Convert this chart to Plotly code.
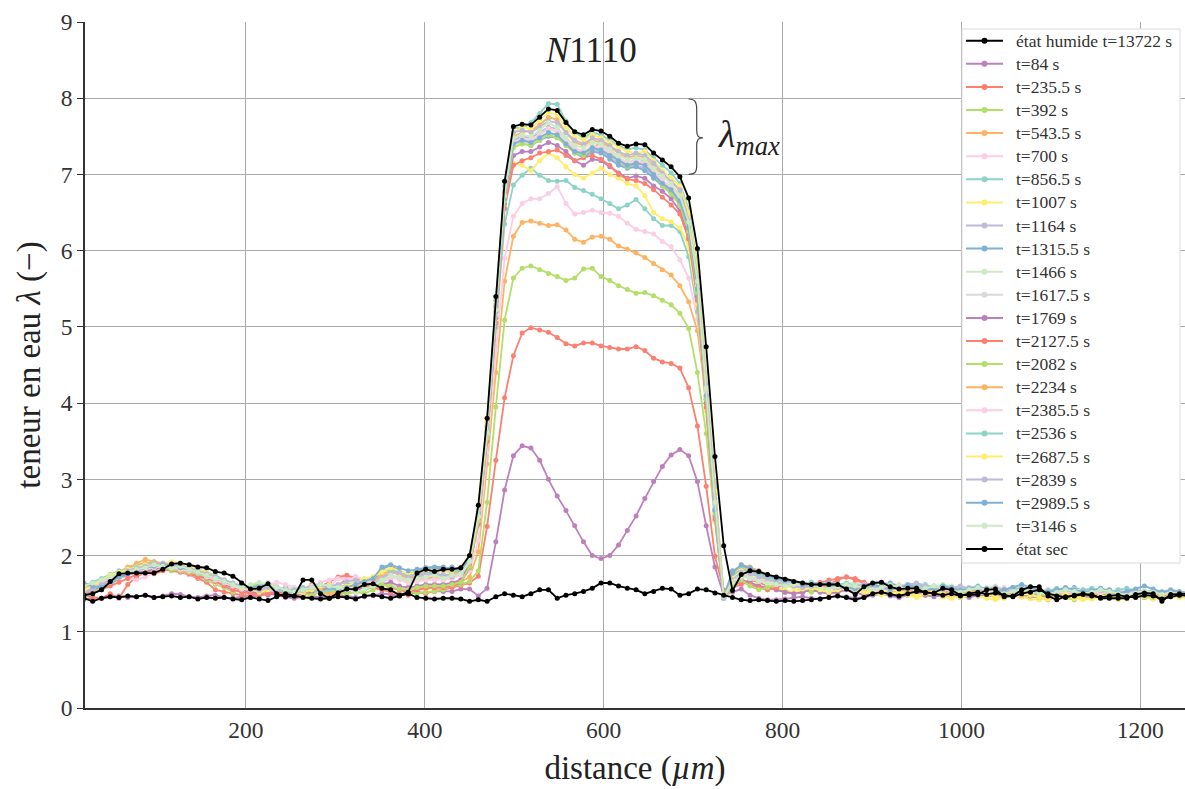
import plotly.graph_objects as go

# sampling grid (distance, µm)
x = [round(18.8 + 9.8 * i, 1) for i in range(127)]

# ---- état humide (black) ----
wet = ([1.48,1.50,1.55,1.66,1.76,1.77,1.77,1.77,1.77,1.82,1.89,1.90,1.88,1.85,1.84,1.79,1.77,1.73,1.64,1.56,
        1.57,1.63,1.50,1.46,1.47,1.68,1.68,1.50,1.44,1.51,1.56,1.56,1.62,1.63,1.57,1.55,1.48,1.52,1.77,1.82,1.79]
       + [1.82,1.82,1.84,2.00,2.66,3.80,5.40,6.91,7.63,7.66,7.65,7.75,7.86,7.84,7.68,7.56,7.52,7.59,7.57,7.50,
          7.41,7.37,7.40,7.39,7.28,7.19,7.10,6.97,6.69,6.03,4.74,3.30,2.13,1.54]
       + [1.75,1.80,1.79,1.75,1.72,1.69,1.66,1.64,1.62,1.62,1.62,1.62,1.56,1.49,1.59,1.64,1.65,1.59,1.56,1.57,
          1.57,1.51,1.51,1.57,1.55,1.48,1.48,1.49,1.55,1.56,1.46,1.47,1.55,1.59,1.59,1.47,1.42,1.46,1.47,1.49,
          1.49,1.44,1.44,1.44,1.44,1.49,1.51,1.50,1.40,1.49,1.50,1.50])

# ---- état sec (black) ----
dry = ([1.44,1.40,1.44,1.46,1.45,1.47,1.46,1.48,1.45,1.46,1.47,1.45,1.46,1.43,1.45,1.44,1.45,1.43,1.42,1.45,
        1.43,1.41,1.46,1.50,1.47,1.45,1.44,1.43,1.44,1.46,1.45,1.43,1.47,1.48,1.46,1.44,1.47,1.50,1.45,1.44,1.43]
       + [1.44,1.44,1.43,1.40,1.42,1.40,1.46,1.50,1.48,1.46,1.50,1.55,1.55,1.44,1.48,1.50,1.53,1.57,1.64,1.64,
          1.60,1.57,1.55,1.50,1.53,1.57,1.56,1.48,1.50,1.56,1.55,1.51,1.48,1.45]
       + [1.42,1.41,1.42,1.41,1.40,1.41,1.40,1.41,1.42,1.43,1.45,1.47,1.45,1.42,1.45,1.50,1.52,1.49,1.47,1.50,
          1.53,1.52,1.50,1.48,1.50,1.47,1.50,1.52,1.49,1.51,1.48,1.46,1.50,1.52,1.55,1.50,1.47,1.45,1.48,1.50,
          1.47,1.45,1.47,1.48,1.46,1.45,1.48,1.47,1.43,1.46,1.48,1.47])

t84 = ([1.42,1.45,1.44,1.46,1.47,1.45,1.46,1.48,1.45,1.47,1.50,1.49,1.46,1.45,1.47,1.48,1.45,1.44,1.46,1.45,
        1.47,1.50,1.48,1.45,1.44,1.46,1.47,1.45,1.46,1.48,1.47,1.45,1.46,1.48,1.50,1.49,1.47,1.50,1.52,1.51,1.53]
       + [1.53,1.53,1.56,1.56,1.47,1.57,2.18,2.86,3.31,3.44,3.41,3.25,3.00,2.78,2.59,2.39,2.18,2.00,1.96,2.00,
          2.14,2.33,2.52,2.75,2.97,3.17,3.32,3.39,3.31,2.97,2.39,1.85,1.48,1.52]
       + [1.56,1.48,1.44,1.42,1.42,1.43,1.45,1.46,1.44,1.43,1.45,1.47,1.46,1.44,1.45,1.48,1.50,1.47,1.45,1.48,
          1.50,1.52,1.48,1.46,1.50,1.53,1.50,1.47,1.49,1.52,1.50,1.47,1.46,1.49,1.52,1.50,1.48,1.46,1.50,1.52,
          1.49,1.47,1.45,1.48,1.50,1.47,1.45,1.48,1.50,1.47,1.46,1.48])

t235 = ([1.48,1.45,1.44,1.50,1.44,1.62,1.72,1.78,1.80,1.82,1.80,1.78,1.75,1.70,1.65,1.55,1.52,1.50,1.48,1.47,
         1.50,1.52,1.48,1.46,1.50,1.55,1.62,1.58,1.52,1.60,1.70,1.72,1.65,1.58,1.55,1.52,1.50,1.48,1.52,1.50,1.54]
        + [1.55,1.58,1.60,1.64,1.73,2.38,3.25,4.07,4.62,4.92,4.99,4.96,4.93,4.86,4.78,4.75,4.79,4.79,4.75,4.73,
           4.71,4.71,4.74,4.69,4.59,4.54,4.52,4.46,4.20,3.70,2.91,1.99,1.55,1.58]
        + [1.62,1.68,1.65,1.60,1.55,1.52,1.50,1.52,1.55,1.58,1.62,1.68,1.72,1.70,1.65,1.60,1.58,1.55,1.52,1.50,
           1.48,1.52,1.55,1.50,1.48,1.45,1.50,1.52,1.48,1.46,1.50,1.55,1.52,1.48,1.45,1.48,1.50,1.52,1.50,1.47,
           1.45,1.48,1.50,1.47,1.45,1.48,1.50,1.46,1.44,1.47,1.49,1.47])

t392 = ([1.50,1.55,1.60,1.68,1.75,1.78,1.80,1.82,1.85,1.83,1.80,1.82,1.78,1.72,1.68,1.62,1.58,1.52,1.55,1.60,
         1.62,1.58,1.55,1.52,1.48,1.50,1.55,1.52,1.48,1.50,1.55,1.52,1.50,1.55,1.62,1.58,1.55,1.52,1.50,1.52,1.53]
        + [1.55,1.60,1.62,1.66,1.80,2.70,3.95,5.09,5.64,5.77,5.80,5.75,5.70,5.66,5.61,5.64,5.76,5.77,5.66,5.61,
           5.54,5.49,5.44,5.45,5.41,5.35,5.29,5.18,4.98,4.40,3.60,2.45,1.46,1.55]
        + [1.70,1.62,1.58,1.55,1.60,1.62,1.58,1.55,1.52,1.55,1.58,1.60,1.62,1.58,1.55,1.52,1.50,1.55,1.58,1.52,
           1.50,1.48,1.52,1.55,1.50,1.46,1.48,1.52,1.50,1.45,1.48,1.50,1.46,1.44,1.48,1.50,1.47,1.45,1.42,1.46,
           1.48,1.50,1.47,1.44,1.46,1.48,1.45,1.43,1.46,1.48,1.46,1.45])

t543 = ([1.55,1.52,1.58,1.70,1.78,1.82,1.90,1.95,1.92,1.88,1.85,1.88,1.85,1.80,1.75,1.70,1.62,1.58,1.55,1.52,
         1.50,1.55,1.58,1.52,1.48,1.50,1.52,1.55,1.50,1.48,1.52,1.55,1.58,1.62,1.65,1.60,1.55,1.58,1.55,1.56,1.58]
        + [1.58,1.62,1.65,1.72,2.05,3.20,4.40,5.60,6.19,6.37,6.39,6.36,6.33,6.34,6.27,6.15,6.11,6.18,6.19,6.15,
           6.06,6.02,5.97,5.91,5.83,5.75,5.68,5.54,5.33,4.95,4.05,2.95,1.47,1.62]
        + [1.85,1.82,1.78,1.72,1.68,1.65,1.62,1.60,1.58,1.62,1.65,1.62,1.58,1.55,1.60,1.62,1.58,1.55,1.50,1.52,
           1.55,1.58,1.52,1.48,1.45,1.50,1.52,1.55,1.50,1.48,1.46,1.50,1.52,1.48,1.45,1.42,1.46,1.50,1.48,1.45,
           1.47,1.50,1.48,1.45,1.47,1.50,1.52,1.48,1.46,1.49,1.51,1.48])

t700 = ([1.52,1.58,1.65,1.72,1.75,1.70,1.68,1.72,1.78,1.82,1.85,1.80,1.75,1.72,1.70,1.65,1.60,1.55,1.52,1.50,
         1.55,1.60,1.58,1.52,1.50,1.55,1.60,1.62,1.58,1.70,1.72,1.68,1.62,1.60,1.65,1.62,1.58,1.55,1.58,1.60,1.62]
        + [1.62,1.65,1.68,1.80,2.20,3.35,4.70,5.90,6.45,6.62,6.68,6.68,6.75,6.84,6.62,6.48,6.50,6.53,6.50,6.49,
           6.45,6.36,6.28,6.25,6.22,6.12,6.05,5.88,5.64,5.10,4.10,2.85,1.47,1.62]
        + [1.75,1.72,1.68,1.65,1.62,1.60,1.58,1.62,1.65,1.60,1.58,1.55,1.60,1.62,1.58,1.55,1.52,1.55,1.58,1.62,
           1.58,1.55,1.52,1.50,1.54,1.58,1.55,1.52,1.50,1.55,1.58,1.55,1.52,1.50,1.48,1.52,1.55,1.58,1.54,1.50,
           1.48,1.52,1.55,1.50,1.48,1.52,1.50,1.47,1.50,1.52,1.50,1.48])

t856 = ([1.55,1.62,1.65,1.72,1.78,1.80,1.85,1.88,1.86,1.90,1.88,1.85,1.84,1.80,1.76,1.72,1.65,1.60,1.58,1.55,
         1.52,1.55,1.50,1.48,1.52,1.55,1.58,1.55,1.52,1.55,1.60,1.62,1.65,1.68,1.75,1.72,1.70,1.68,1.70,1.72,1.70]
        + [1.70,1.72,1.75,1.88,2.40,3.50,5.00,6.35,6.86,6.99,7.08,6.99,6.92,6.91,6.92,6.83,6.79,6.74,6.68,6.62,
           6.55,6.60,6.67,6.55,6.42,6.33,6.33,6.25,5.92,5.20,4.00,2.70,1.46,1.68]
        + [1.80,1.78,1.75,1.72,1.70,1.66,1.62,1.64,1.60,1.58,1.60,1.62,1.58,1.55,1.58,1.62,1.65,1.60,1.56,1.55,
           1.58,1.62,1.58,1.55,1.52,1.55,1.58,1.56,1.52,1.50,1.54,1.58,1.55,1.52,1.50,1.53,1.56,1.52,1.50,1.48,
           1.52,1.55,1.52,1.48,1.50,1.53,1.50,1.48,1.50,1.52,1.50,1.48])

t1007 = ([1.48,1.55,1.62,1.70,1.75,1.78,1.82,1.85,1.80,1.84,1.86,1.85,1.82,1.78,1.74,1.70,1.62,1.58,1.55,1.52,
          1.48,1.52,1.55,1.50,1.48,1.45,1.50,1.55,1.52,1.58,1.62,1.60,1.58,1.65,1.78,1.82,1.75,1.72,1.75,1.78,1.80]
         + [1.80,1.78,1.82,1.96,2.55,3.60,5.10,6.58,7.15,7.12,7.05,7.18,7.28,7.22,7.10,7.00,6.95,7.02,7.08,7.00,
            6.95,6.88,6.85,6.72,6.50,6.42,6.38,6.30,6.05,5.30,3.90,2.45,1.46,1.75]
         + [1.78,1.72,1.68,1.62,1.58,1.55,1.52,1.55,1.58,1.55,1.52,1.50,1.55,1.58,1.55,1.52,1.48,1.50,1.52,1.48,
            1.45,1.48,1.50,1.46,1.44,1.48,1.50,1.47,1.44,1.42,1.45,1.48,1.46,1.43,1.42,1.45,1.48,1.46,1.44,1.42,
            1.45,1.47,1.44,1.42,1.45,1.48,1.46,1.43,1.45,1.47,1.45,1.44])

t1164 = ([1.52,1.58,1.62,1.68,1.72,1.78,1.80,1.84,1.88,1.86,1.84,1.86,1.82,1.80,1.75,1.70,1.66,1.62,1.58,1.55,
          1.58,1.60,1.55,1.52,1.50,1.55,1.58,1.60,1.55,1.58,1.60,1.62,1.60,1.66,1.72,1.78,1.76,1.70,1.72,1.74,1.75]
         + [1.74,1.76,1.78,1.94,2.55,3.64,5.25,6.75,7.45,7.50,7.48,7.55,7.62,7.60,7.45,7.32,7.25,7.32,7.30,7.22,
            7.15,7.10,7.12,7.08,6.98,6.88,6.78,6.62,6.28,5.48,4.08,2.60,1.45,1.74]
         + [1.82,1.78,1.74,1.70,1.65,1.62,1.60,1.58,1.62,1.60,1.58,1.55,1.58,1.62,1.60,1.56,1.55,1.58,1.60,1.62,
            1.58,1.55,1.58,1.60,1.56,1.52,1.55,1.58,1.55,1.52,1.55,1.58,1.55,1.52,1.50,1.53,1.55,1.52,1.50,1.52,
            1.54,1.52,1.50,1.48,1.52,1.55,1.52,1.50,1.48,1.50,1.52,1.50])

t1315 = ([1.62,1.58,1.55,1.62,1.70,1.75,1.78,1.80,1.84,1.85,1.82,1.84,1.86,1.80,1.76,1.72,1.65,1.60,1.62,1.58,
          1.55,1.52,1.55,1.58,1.55,1.52,1.50,1.55,1.58,1.55,1.52,1.55,1.60,1.65,1.82,1.87,1.80,1.75,1.80,1.84,1.85]
         + [1.85,1.82,1.84,1.96,2.55,3.62,5.20,6.68,7.40,7.42,7.38,7.45,7.50,7.48,7.40,7.28,7.22,7.30,7.28,7.20,
            7.12,7.08,7.10,7.05,6.95,6.85,6.75,6.60,6.25,5.45,4.05,2.58,1.45,1.80]
         + [1.86,1.84,1.80,1.75,1.70,1.66,1.64,1.62,1.60,1.58,1.60,1.62,1.60,1.58,1.55,1.58,1.62,1.64,1.60,1.56,
            1.55,1.58,1.60,1.58,1.55,1.52,1.55,1.58,1.55,1.52,1.50,1.55,1.58,1.55,1.52,1.50,1.52,1.55,1.58,1.54,
            1.50,1.52,1.55,1.52,1.48,1.50,1.52,1.54,1.50,1.48,1.50,1.52])

t1466 = ([1.58,1.62,1.68,1.72,1.70,1.76,1.80,1.82,1.86,1.88,1.85,1.82,1.80,1.78,1.74,1.70,1.65,1.62,1.60,1.58,
          1.62,1.65,1.60,1.55,1.52,1.50,1.55,1.58,1.62,1.60,1.55,1.58,1.62,1.60,1.68,1.72,1.70,1.65,1.68,1.70,1.72]
         + [1.72,1.70,1.76,1.92,2.52,3.60,5.22,6.72,7.40,7.45,7.44,7.52,7.60,7.55,7.45,7.35,7.30,7.38,7.36,7.30,
            7.22,7.16,7.20,7.18,7.05,6.92,6.82,6.68,6.30,5.52,4.12,2.64,1.46,1.72]
         + [1.76,1.72,1.70,1.68,1.66,1.62,1.60,1.62,1.64,1.62,1.60,1.58,1.62,1.65,1.62,1.58,1.55,1.58,1.62,1.60,
            1.58,1.55,1.58,1.62,1.60,1.56,1.52,1.55,1.58,1.60,1.56,1.52,1.55,1.58,1.55,1.52,1.50,1.53,1.56,1.54,
            1.52,1.55,1.52,1.50,1.52,1.55,1.53,1.50,1.52,1.54,1.52,1.50])

t1617 = ([1.55,1.60,1.65,1.70,1.76,1.80,1.82,1.85,1.84,1.82,1.86,1.84,1.80,1.76,1.72,1.68,1.62,1.58,1.56,1.55,
          1.58,1.55,1.52,1.55,1.58,1.52,1.50,1.55,1.60,1.62,1.65,1.68,1.62,1.58,1.65,1.70,1.72,1.68,1.66,1.70,1.70]
         + [1.70,1.72,1.75,1.90,2.50,3.58,5.20,6.70,7.38,7.42,7.40,7.48,7.55,7.50,7.42,7.32,7.28,7.36,7.34,7.28,
            7.20,7.14,7.16,7.14,7.02,6.90,6.80,6.65,6.28,5.50,4.10,2.62,1.45,1.70]
         + [1.74,1.72,1.68,1.66,1.64,1.62,1.60,1.58,1.60,1.62,1.60,1.58,1.60,1.62,1.58,1.55,1.58,1.60,1.56,1.55,
            1.58,1.60,1.56,1.52,1.55,1.58,1.55,1.52,1.54,1.56,1.52,1.50,1.53,1.55,1.52,1.50,1.52,1.55,1.52,1.50,
            1.52,1.54,1.50,1.48,1.50,1.52,1.50,1.48,1.51,1.53,1.50,1.49])

t1769 = ([1.50,1.55,1.62,1.68,1.72,1.75,1.78,1.80,1.82,1.85,1.84,1.82,1.78,1.75,1.72,1.68,1.62,1.58,1.55,1.52,
          1.50,1.48,1.52,1.55,1.50,1.48,1.52,1.55,1.58,1.55,1.52,1.55,1.58,1.60,1.62,1.65,1.60,1.58,1.60,1.62,1.62]
         + [1.62,1.64,1.68,1.88,2.48,3.55,5.12,6.62,7.25,7.30,7.30,7.36,7.42,7.38,7.30,7.18,7.12,7.20,7.18,7.10,
            7.02,6.95,6.98,6.95,6.85,6.78,6.68,6.52,6.18,5.40,4.00,2.52,1.44,1.64]
         + [1.68,1.65,1.60,1.58,1.55,1.52,1.50,1.52,1.55,1.52,1.50,1.52,1.55,1.52,1.48,1.50,1.52,1.48,1.46,1.50,
            1.52,1.48,1.46,1.50,1.52,1.48,1.45,1.48,1.50,1.47,1.45,1.48,1.50,1.47,1.45,1.44,1.47,1.50,1.48,1.45,
            1.47,1.50,1.48,1.46,1.44,1.47,1.49,1.46,1.45,1.48,1.47,1.46])

t2127 = ([1.52,1.50,1.55,1.60,1.65,1.70,1.75,1.78,1.76,1.80,1.82,1.80,1.76,1.72,1.70,1.66,1.60,1.55,1.52,1.50,
          1.48,1.50,1.52,1.50,1.46,1.48,1.55,1.60,1.65,1.72,1.74,1.70,1.62,1.58,1.55,1.58,1.55,1.52,1.55,1.58,1.58]
         + [1.58,1.60,1.64,1.84,2.42,3.50,5.05,6.55,7.12,7.18,7.22,7.28,7.30,7.32,7.25,7.18,7.22,7.25,7.20,7.12,
            7.00,6.94,6.92,6.88,6.80,6.70,6.60,6.48,6.15,5.35,3.95,2.48,1.45,1.60]
         + [1.65,1.62,1.58,1.55,1.58,1.62,1.60,1.58,1.62,1.65,1.68,1.70,1.72,1.68,1.64,1.60,1.58,1.55,1.58,1.55,
            1.52,1.55,1.58,1.55,1.52,1.50,1.52,1.55,1.52,1.48,1.50,1.52,1.55,1.52,1.48,1.46,1.50,1.52,1.50,1.47,
            1.48,1.50,1.52,1.49,1.46,1.48,1.51,1.49,1.47,1.50,1.48,1.47])

t2082 = ([1.45,1.50,1.58,1.65,1.72,1.78,1.82,1.84,1.86,1.84,1.82,1.80,1.78,1.76,1.72,1.68,1.64,1.60,1.56,1.60,
          1.62,1.58,1.55,1.52,1.55,1.50,1.48,1.52,1.55,1.52,1.50,1.52,1.55,1.58,1.62,1.60,1.56,1.55,1.58,1.60,1.60]
         + [1.60,1.62,1.65,1.85,2.45,3.55,5.15,6.65,7.35,7.40,7.38,7.45,7.52,7.48,7.38,7.28,7.25,7.35,7.42,7.30,
            7.20,7.10,7.15,7.18,7.02,6.85,6.75,6.60,6.25,5.45,4.05,2.55,1.44,1.62]
         + [1.68,1.60,1.55,1.58,1.62,1.65,1.62,1.58,1.55,1.58,1.60,1.62,1.58,1.55,1.58,1.60,1.57,1.54,1.56,1.58,
            1.55,1.52,1.55,1.58,1.54,1.50,1.52,1.55,1.52,1.49,1.50,1.53,1.55,1.52,1.49,1.47,1.50,1.52,1.50,1.47,
            1.49,1.51,1.48,1.46,1.48,1.50,1.47,1.45,1.48,1.50,1.48,1.47])

t2234 = ([1.58,1.62,1.66,1.72,1.78,1.85,1.88,1.90,1.92,1.90,1.88,1.90,1.86,1.82,1.78,1.74,1.68,1.62,1.58,1.55,
          1.52,1.55,1.58,1.55,1.52,1.55,1.58,1.55,1.50,1.52,1.55,1.58,1.62,1.66,1.75,1.80,1.74,1.70,1.72,1.70,1.72]
         + [1.72,1.75,1.80,1.95,2.55,3.65,5.25,6.75,7.50,7.55,7.58,7.65,7.75,7.72,7.55,7.42,7.38,7.45,7.42,7.36,
            7.28,7.22,7.25,7.22,7.10,7.00,6.92,6.78,6.45,5.70,4.30,2.80,1.45,1.75]
         + [1.88,1.85,1.80,1.74,1.70,1.66,1.63,1.60,1.62,1.60,1.58,1.60,1.62,1.58,1.55,1.58,1.60,1.56,1.53,1.55,
            1.57,1.55,1.52,1.50,1.53,1.56,1.54,1.51,1.49,1.52,1.54,1.51,1.48,1.50,1.53,1.50,1.47,1.49,1.52,1.50,
            1.48,1.50,1.52,1.49,1.47,1.50,1.52,1.49,1.47,1.49,1.51,1.49])

t2385 = ([1.55,1.60,1.66,1.70,1.74,1.78,1.80,1.82,1.84,1.86,1.84,1.82,1.80,1.78,1.72,1.68,1.65,1.60,1.56,1.55,
          1.58,1.62,1.65,1.62,1.58,1.55,1.60,1.65,1.68,1.70,1.68,1.72,1.68,1.64,1.68,1.72,1.68,1.64,1.66,1.68,1.68]
         + [1.68,1.70,1.74,1.92,2.50,3.60,5.18,6.70,7.42,7.48,7.45,7.52,7.60,7.58,7.45,7.35,7.30,7.38,7.35,7.30,
            7.22,7.15,7.18,7.15,7.05,6.92,6.85,6.70,6.35,5.55,4.15,2.65,1.45,1.65]
         + [1.72,1.70,1.66,1.64,1.62,1.64,1.62,1.60,1.58,1.62,1.64,1.60,1.58,1.60,1.62,1.58,1.55,1.58,1.60,1.57,
            1.55,1.58,1.60,1.56,1.53,1.55,1.58,1.55,1.52,1.55,1.57,1.55,1.52,1.50,1.53,1.56,1.53,1.50,1.52,1.55,
            1.53,1.50,1.52,1.55,1.52,1.49,1.51,1.53,1.50,1.52,1.51,1.49])

t2536 = ([1.60,1.65,1.70,1.75,1.80,1.82,1.86,1.88,1.90,1.88,1.90,1.88,1.86,1.82,1.78,1.74,1.68,1.64,1.60,1.58,
          1.55,1.58,1.55,1.52,1.55,1.58,1.55,1.52,1.55,1.58,1.62,1.65,1.68,1.72,1.80,1.82,1.78,1.74,1.76,1.78,1.78]
         + [1.80,1.78,1.82,1.98,2.60,3.70,5.35,6.85,7.62,7.60,7.68,7.80,7.93,7.92,7.70,7.55,7.48,7.55,7.52,7.45,
            7.38,7.33,7.35,7.32,7.22,7.12,7.02,6.88,6.55,5.80,4.40,2.90,1.46,1.72]
         + [1.82,1.80,1.76,1.72,1.68,1.66,1.64,1.62,1.65,1.62,1.60,1.62,1.64,1.60,1.58,1.62,1.65,1.62,1.58,1.60,
            1.62,1.58,1.56,1.60,1.58,1.55,1.57,1.60,1.56,1.53,1.55,1.58,1.56,1.53,1.51,1.54,1.57,1.55,1.52,1.55,
            1.57,1.54,1.52,1.55,1.57,1.54,1.52,1.50,1.53,1.55,1.53,1.51])

t2687 = ([1.55,1.60,1.68,1.74,1.78,1.82,1.85,1.88,1.86,1.90,1.92,1.90,1.86,1.82,1.78,1.72,1.66,1.62,1.58,1.56,
          1.52,1.55,1.58,1.55,1.50,1.52,1.55,1.60,1.62,1.58,1.60,1.65,1.70,1.72,1.78,1.84,1.80,1.76,1.78,1.80,1.82]
         + [1.78,1.80,1.85,2.00,2.65,3.75,5.30,6.80,7.55,7.62,7.60,7.72,7.82,7.78,7.62,7.50,7.45,7.52,7.48,7.42,
            7.35,7.30,7.28,7.30,7.18,7.05,6.95,6.85,6.50,5.75,4.35,2.85,1.47,1.70]
         + [1.80,1.76,1.72,1.68,1.64,1.60,1.58,1.56,1.58,1.55,1.52,1.55,1.58,1.55,1.52,1.50,1.53,1.56,1.53,1.50,
            1.48,1.50,1.53,1.50,1.47,1.45,1.48,1.51,1.49,1.46,1.44,1.47,1.50,1.48,1.45,1.43,1.46,1.49,1.47,1.44,
            1.43,1.46,1.48,1.45,1.43,1.46,1.48,1.46,1.44,1.46,1.47,1.45])

t2839 = ([1.50,1.56,1.62,1.68,1.74,1.80,1.84,1.86,1.88,1.90,1.88,1.86,1.84,1.80,1.76,1.72,1.68,1.64,1.60,1.56,
          1.54,1.58,1.56,1.52,1.50,1.54,1.58,1.62,1.60,1.62,1.66,1.68,1.64,1.62,1.70,1.76,1.78,1.72,1.74,1.76,1.76]
         + [1.75,1.72,1.78,1.96,2.58,3.68,5.28,6.78,7.55,7.58,7.55,7.62,7.70,7.68,7.55,7.45,7.40,7.48,7.45,7.38,
            7.30,7.25,7.28,7.25,7.15,7.02,6.90,6.80,6.40,5.65,4.25,2.75,1.44,1.68]
         + [1.78,1.76,1.72,1.68,1.65,1.62,1.60,1.58,1.60,1.62,1.60,1.58,1.56,1.60,1.62,1.60,1.57,1.55,1.58,1.62,
            1.64,1.60,1.57,1.55,1.58,1.60,1.57,1.54,1.56,1.58,1.55,1.52,1.55,1.58,1.55,1.52,1.54,1.57,1.54,1.51,
            1.53,1.56,1.53,1.50,1.52,1.55,1.53,1.50,1.52,1.55,1.53,1.51])

t2989 = ([1.64,1.60,1.58,1.65,1.72,1.76,1.80,1.84,1.86,1.88,1.86,1.84,1.82,1.78,1.74,1.70,1.66,1.62,1.60,1.58,
          1.60,1.62,1.58,1.55,1.52,1.55,1.58,1.62,1.58,1.55,1.58,1.62,1.66,1.70,1.85,1.88,1.84,1.80,1.82,1.84,1.84]
         + [1.82,1.85,1.80,1.95,2.55,3.62,5.20,6.68,7.40,7.45,7.42,7.48,7.55,7.52,7.40,7.30,7.28,7.35,7.32,7.25,
            7.18,7.12,7.15,7.12,7.00,6.88,6.80,6.65,6.30,5.50,4.10,2.60,1.46,1.78]
         + [1.88,1.84,1.78,1.74,1.70,1.68,1.65,1.62,1.60,1.62,1.64,1.62,1.58,1.56,1.60,1.62,1.59,1.56,1.58,1.61,
            1.58,1.55,1.57,1.60,1.57,1.54,1.56,1.59,1.56,1.53,1.55,1.58,1.62,1.58,1.54,1.52,1.55,1.58,1.55,1.52,
            1.54,1.57,1.54,1.51,1.53,1.56,1.60,1.56,1.52,1.54,1.52,1.50])

t3146 = ([1.60,1.64,1.68,1.72,1.76,1.78,1.82,1.84,1.88,1.86,1.84,1.86,1.82,1.78,1.74,1.70,1.66,1.62,1.58,1.62,
          1.65,1.62,1.58,1.55,1.52,1.55,1.58,1.62,1.60,1.58,1.55,1.52,1.56,1.60,1.68,1.74,1.72,1.68,1.70,1.72,1.74]
         + [1.70,1.74,1.76,1.93,2.52,3.62,5.22,6.72,7.48,7.52,7.50,7.58,7.68,7.62,7.48,7.38,7.35,7.42,7.40,7.33,
            7.25,7.20,7.22,7.20,7.08,6.98,6.88,6.72,6.38,5.60,4.20,2.70,1.46,1.66]
         + [1.74,1.70,1.66,1.64,1.62,1.60,1.62,1.64,1.61,1.58,1.56,1.59,1.62,1.60,1.57,1.55,1.58,1.61,1.59,1.56,
            1.54,1.57,1.60,1.57,1.54,1.52,1.55,1.58,1.55,1.52,1.50,1.53,1.56,1.54,1.51,1.49,1.52,1.55,1.53,1.50,
            1.52,1.55,1.53,1.50,1.48,1.51,1.54,1.52,1.49,1.51,1.50,1.48])

labels = ["t=84 s", "t=235.5 s", "t=392 s", "t=543.5 s", "t=700 s", "t=856.5 s", "t=1007 s",
          "t=1164 s", "t=1315.5 s", "t=1466 s", "t=1617.5 s", "t=1769 s", "t=2127.5 s", "t=2082 s",
          "t=2234 s", "t=2385.5 s", "t=2536 s", "t=2687.5 s", "t=2839 s", "t=2989.5 s", "t=3146 s"]
series = [t84, t235, t392, t543, t700, t856, t1007, t1164, t1315, t1466, t1617, t1769, t2127,
          t2082, t2234, t2385, t2536, t2687, t2839, t2989, t3146]
palette = ["#bc80bd", "#fb8072", "#b3de69", "#fdb462", "#fccde5", "#8dd3c7", "#ffed6f",
           "#bebada", "#80b1d3", "#ccebc5", "#d9d9d9"]
wet_label = "état humide t=13722 s"
dry_label = "état sec"

for s in series + [wet, dry]:
    assert len(s) == len(x), len(s)

FONT = "Liberation Serif"
W, H = 1185, 789
ML, MR, MT, MB = 85, 0, 22, 81


def px_x(px):  # pixel -> paper x
    return (px - ML) / (W - ML - MR)


def px_y(py):  # pixel -> paper y
    return (H - MB - py) / (H - MT - MB)


fig = go.Figure()
colors = []
for k, (lab, ys) in enumerate(zip(labels, series)):
    c = palette[k % len(palette)]
    colors.append(c)
    fig.add_trace(go.Scatter(x=x, y=ys, mode="lines+markers", name=lab,
                             line=dict(color=c, width=1.8), marker=dict(color=c, size=5)))
fig.add_trace(go.Scatter(x=x, y=dry, mode="lines+markers", name=dry_label,
                         line=dict(color="black", width=1.8), marker=dict(color="black", size=5)))
fig.add_trace(go.Scatter(x=x, y=wet, mode="lines+markers", name=wet_label,
                         line=dict(color="black", width=1.8), marker=dict(color="black", size=5)))

# ---- legend box (drawn explicitly to match the compact spacing of the reference) ----
fig.add_shape(type="rect", xref="paper", yref="paper", x0=px_x(962), x1=px_x(1180),
              y0=px_y(563), y1=px_y(29), fillcolor="white", line=dict(color="#dcdcdc", width=1),
              layer="above")
entries = [(wet_label, "black")] + list(zip(labels, colors)) + [(dry_label, "black")]
for k, (lab, c) in enumerate(entries):
    yc = px_y(40.7 + 23.1 * k)
    fig.add_shape(type="line", xref="paper", yref="paper", x0=px_x(966), x1=px_x(1003), y0=yc, y1=yc,
                  line=dict(color=c, width=2), layer="above")
    fig.add_shape(type="circle", xref="paper", yref="paper", xsizemode="pixel", ysizemode="pixel",
                  xanchor=px_x(984.5), yanchor=yc, x0=-3, x1=3, y0=-3, y1=3,
                  fillcolor=c, line=dict(width=0), layer="above")
    fig.add_annotation(x=px_x(1014), y=yc, xref="paper", yref="paper", xanchor="left", yanchor="middle",
                       text=lab, showarrow=False, font=dict(family=FONT, size=17.5, color="#333"))

# brace marking lambda_max
fig.add_shape(type="path", xref="x", yref="y",
              path="M 695,7.99 C 702,7.99 704,7.95 704,7.85 L 704,7.58 C 704,7.50 706,7.48 711,7.48 "
                   "C 706,7.48 704,7.46 704,7.38 L 704,7.12 C 704,7.03 702,7.00 695,7.00",
              line=dict(color="#444", width=1.2))
fig.add_annotation(x=px_x(716), y=px_y(137), xref="paper", yref="paper", xanchor="left", yanchor="middle",
                   text="<i>λ</i><sub><i>max</i></sub>", showarrow=False,
                   font=dict(family=FONT, size=38, color="#222"))
fig.add_annotation(x=px_x(591), y=px_y(50), xref="paper", yref="paper", xanchor="center", yanchor="middle",
                   text="<i>N</i>1110", showarrow=False, font=dict(family=FONT, size=35, color="#222"))

fig.update_layout(
    width=W, height=H, paper_bgcolor="white", plot_bgcolor="white",
    margin=dict(l=ML, r=MR, t=MT, b=MB, autoexpand=False),
    font=dict(family=FONT, color="#222"),
    showlegend=False,
    xaxis=dict(range=[20, 1250], tickvals=[200, 400, 600, 800, 1000, 1200], showgrid=True,
               gridcolor="#aaaaaa", gridwidth=1, showline=True, linecolor="#333", linewidth=1.5,
               ticks="", tickfont=dict(family=FONT, size=23.5, color="#333"), zeroline=False,
               automargin=False,
               title=dict(text="distance (<i>µm</i>)", font=dict(family=FONT, size=33, color="#222"),
                          standoff=14)),
    yaxis=dict(range=[0, 9], dtick=1, showgrid=True, gridcolor="#aaaaaa", gridwidth=1, showline=True,
               linecolor="#333", linewidth=1.5, ticks="outside", ticklen=6, tickcolor="#333",
               tickfont=dict(family=FONT, size=23.5, color="#333"), zeroline=False, automargin=False,
               title=dict(text="teneur en eau <i>λ</i> (−)", font=dict(family=FONT, size=33, color="#222"),
                          standoff=10)),
)
# remove the default 8 px page margin so the figure fills the window exactly
fig.write_html("out.html", config={"displayModeBar": False},
               post_script="document.body.style.margin='0px';")
